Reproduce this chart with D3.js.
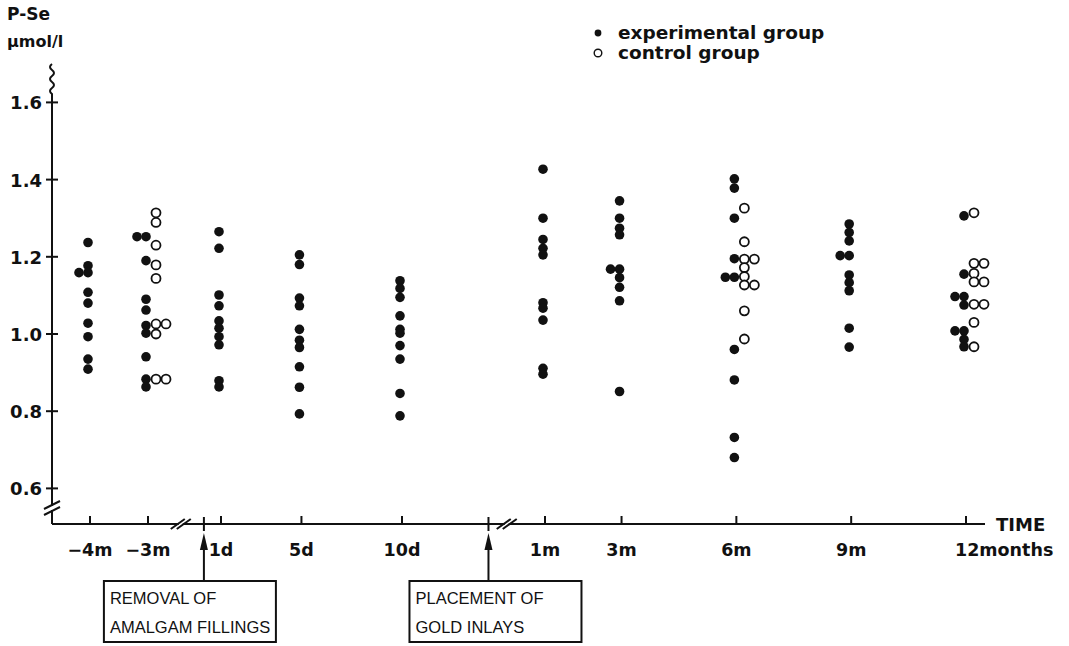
<!DOCTYPE html>
<html>
<head>
<meta charset="utf-8">
<script src="https://cdn.jsdelivr.net/npm/d3@7"></script>
<style>
body { margin: 0; background: #fff; }
text { font-family: "DejaVu Sans", Verdana, sans-serif; font-weight: bold; fill: #111; }
.box text { font-family: "Liberation Sans", Arial, sans-serif; font-weight: normal; }
</style>
</head>
<body>
<svg width="1069" height="646"></svg>
<script>
// time points of the broken time axis: segment + value within segment
var timeLabels  = ["-4m", "-3m", "1d", "5d", "10d", "1m", "3m", "6m", "9m", "12months"];
var timeSegment = ["pre", "pre", "day", "day", "day", "post", "post", "post", "post", "post"];
var timeValue   = [-4, -3, 1, 5, 10, 1, 3, 6, 9, 12];

// P-Se, umol/l
var experimental = [
  [1.237, 1.177, 1.159, 1.159, 1.108, 1.080, 1.028, 0.993, 0.935, 0.909],
  [1.252, 1.252, 1.190, 1.090, 1.062, 1.022, 1.002, 0.941, 0.883, 0.863],
  [1.265, 1.222, 1.101, 1.073, 1.034, 1.015, 0.993, 0.972, 0.879, 0.863],
  [1.205, 1.180, 1.093, 1.073, 1.012, 0.984, 0.965, 0.915, 0.862, 0.793],
  [1.138, 1.118, 1.095, 1.047, 1.012, 1.002, 0.970, 0.935, 0.846, 0.788],
  [1.427, 1.300, 1.245, 1.222, 1.205, 1.081, 1.067, 1.036, 0.911, 0.896],
  [1.345, 1.300, 1.274, 1.257, 1.168, 1.168, 1.146, 1.121, 1.086, 0.851],
  [1.402, 1.378, 1.300, 1.195, 1.147, 1.147, 0.960, 0.881, 0.732, 0.680],
  [1.285, 1.263, 1.241, 1.203, 1.203, 1.153, 1.133, 1.112, 1.015, 0.966],
  [1.306, 1.155, 1.097, 1.097, 1.075, 1.008, 1.008, 0.986, 0.967]
];
var control = [
  [],
  [1.314, 1.289, 1.230, 1.179, 1.144, 1.026, 1.026, 1.000, 0.883, 0.883],
  [], [], [], [], [],
  [1.326, 1.239, 1.194, 1.194, 1.172, 1.149, 1.127, 1.127, 1.060, 0.987],
  [],
  [1.314, 1.183, 1.183, 1.157, 1.135, 1.135, 1.077, 1.077, 1.030, 0.967]
];
var yTicks = [0.6, 0.8, 1.0, 1.2, 1.4, 1.6];

// events marked with arrows (position in days after removal)
var eventLines = [["REMOVAL OF", "AMALGAM FILLINGS"], ["PLACEMENT OF", "GOLD INLAYS"]];
var eventDay = [0.15, 14.3];

var svg = d3.select("svg");
var axisY = 524, axisX = 52, axisRight = 985;

var y = d3.scaleLinear().domain([0.6, 1.6]).range([488.4, 102.4]);
// three pieces of the broken time axis
var xs = {
  pre:  d3.scaleLinear().domain([-4, -3]).range([90, 148]),
  day:  d3.scaleLinear().domain([1, 10]).range([221, 402]),
  post: d3.scaleLinear().domain([1, 12]).range([545, 966])
};
function xAt(i) { return xs[timeSegment[i]](timeValue[i]); }

var ink = "#111";

// y axis with wavy top
svg.append("path")
    .attr("d", "M" + axisX + "," + axisY + "V94 q-4,-3 0,-6 q4,-3 0,-6 q-4,-3 0,-6 q4,-3 0,-6 q-4,-3 0,-6")
    .attr("fill", "none").attr("stroke", ink).attr("stroke-width", 2);

svg.selectAll(".ytick").data(yTicks).enter().append("line")
    .attr("x1", axisX - 6).attr("x2", axisX + 6)
    .attr("y1", function(d) { return y(d); }).attr("y2", function(d) { return y(d); })
    .attr("stroke", ink).attr("stroke-width", 2);
svg.selectAll(".ylab").data(yTicks).enter().append("text")
    .attr("x", axisX - 10).attr("y", function(d) { return y(d) + 7; })
    .attr("text-anchor", "end").style("font-size", "18px")
    .text(function(d) { return d.toFixed(1); });

svg.append("text").attr("x", 7).attr("y", 20).style("font-size", "17px").text("P-Se");
svg.append("text").attr("x", 7).attr("y", 47).style("font-size", "16px").text("\u03bcmol/l");

// x axis
svg.append("line")
    .attr("x1", axisX).attr("x2", axisRight).attr("y1", axisY).attr("y2", axisY)
    .attr("stroke", ink).attr("stroke-width", 2);
svg.append("text").attr("x", 996).attr("y", axisY + 7).style("font-size", "18px").text("TIME");

svg.selectAll(".xtick").data(timeLabels).enter().append("line")
    .attr("x1", function(d, i) { return xAt(i); }).attr("x2", function(d, i) { return xAt(i); })
    .attr("y1", axisY).attr("y2", axisY - 8)
    .attr("stroke", ink).attr("stroke-width", 2);
svg.selectAll(".xlab").data(timeLabels).enter().append("text")
    .attr("x", function(d, i) { return i === timeLabels.length - 1 ? xAt(i) - 11 : xAt(i); })
    .attr("y", axisY + 32)
    .attr("text-anchor", function(d, i) { return i === timeLabels.length - 1 ? "start" : "middle"; })
    .style("font-size", "17.5px")
    .text(function(d) { return d.replace("-", "\u2212"); });

// axis breaks
function brk(cx, cy, vertical) {
  var g = svg.append("g").attr("transform", "translate(" + cx + "," + cy + ")");
  [-3, 3].forEach(function(o) {
    g.append("line")
      .attr("x1", vertical ? -8 : -7 + o).attr("y1", vertical ? 4 + o : 5)
      .attr("x2", vertical ? 8 : 7 + o).attr("y2", vertical ? -4 + o : -5)
      .attr("stroke", ink).attr("stroke-width", 2);
  });
}
svg.append("rect").attr("x", axisX - 3).attr("y", 506).attr("width", 6).attr("height", 4).attr("fill", "#fff");
brk(axisX, 508, true);
[xs.day(-1), xs.post(0)].forEach(function(bx) {
  svg.append("rect").attr("x", bx - 2).attr("y", axisY - 2).attr("width", 4).attr("height", 4).attr("fill", "#fff");
  brk(bx, axisY, false);
});

// event arrows and boxes
eventDay.forEach(function(d, i) {
  var ex = xs.day(d);
  svg.append("line").attr("x1", ex).attr("x2", ex).attr("y1", axisY - 7).attr("y2", axisY + 7)
      .attr("stroke", ink).attr("stroke-width", 2);
  svg.append("line").attr("x1", ex).attr("x2", ex).attr("y1", axisY + 18).attr("y2", 581)
      .attr("stroke", ink).attr("stroke-width", 2);
  svg.append("path")
      .attr("d", "M" + ex + "," + (axisY + 9) + " l-4,17 h8 z")
      .attr("fill", ink);
  var g = svg.append("g").attr("class", "box");
  var left = ex - (i === 0 ? 100 : 79);
  g.append("rect").attr("x", left).attr("y", 581).attr("width", 172).attr("height", 61)
      .attr("fill", "none").attr("stroke", ink).attr("stroke-width", 2);
  g.selectAll("text").data(eventLines[i]).enter().append("text")
      .attr("x", left + 6).attr("y", function(t, k) { return 604 + k * 29; })
      .style("font-size", "16.5px").text(function(t) { return t; });
});

// dots: equal values are set side by side
function spread(vals, base, step) {
  var seen = {};
  return vals.map(function(v) {
    var k = seen[v] || 0;
    seen[v] = k + 1;
    return { v: v, x: base + k * step };
  });
}
var pts = [], opn = [];
timeLabels.forEach(function(t, i) {
  pts = pts.concat(spread(experimental[i], xAt(i) - 2, -9));
  opn = opn.concat(spread(control[i], xAt(i) + 8, 10));
});
svg.append("g").selectAll("circle").data(pts).enter().append("circle")
    .attr("cx", function(d) { return d.x; }).attr("cy", function(d) { return y(d.v); })
    .attr("r", 4.8).attr("fill", ink);
svg.append("g").selectAll("circle").data(opn).enter().append("circle")
    .attr("cx", function(d) { return d.x; }).attr("cy", function(d) { return y(d.v); })
    .attr("r", 4.5).attr("fill", "#fff").attr("stroke", ink).attr("stroke-width", 1.8);

// legend
var legend = svg.append("g").attr("transform", "translate(598,0)");
legend.append("circle").attr("cx", 0).attr("cy", 33).attr("r", 3.4).attr("fill", ink);
legend.append("circle").attr("cx", 0).attr("cy", 53).attr("r", 3.8).attr("fill", "none").attr("stroke", ink).attr("stroke-width", 1.4);
legend.append("text").attr("x", 20).attr("y", 39).style("font-size", "18.5px").text("experimental group");
legend.append("text").attr("x", 20).attr("y", 59).style("font-size", "18.5px").text("control group");
</script>
</body>
</html>
